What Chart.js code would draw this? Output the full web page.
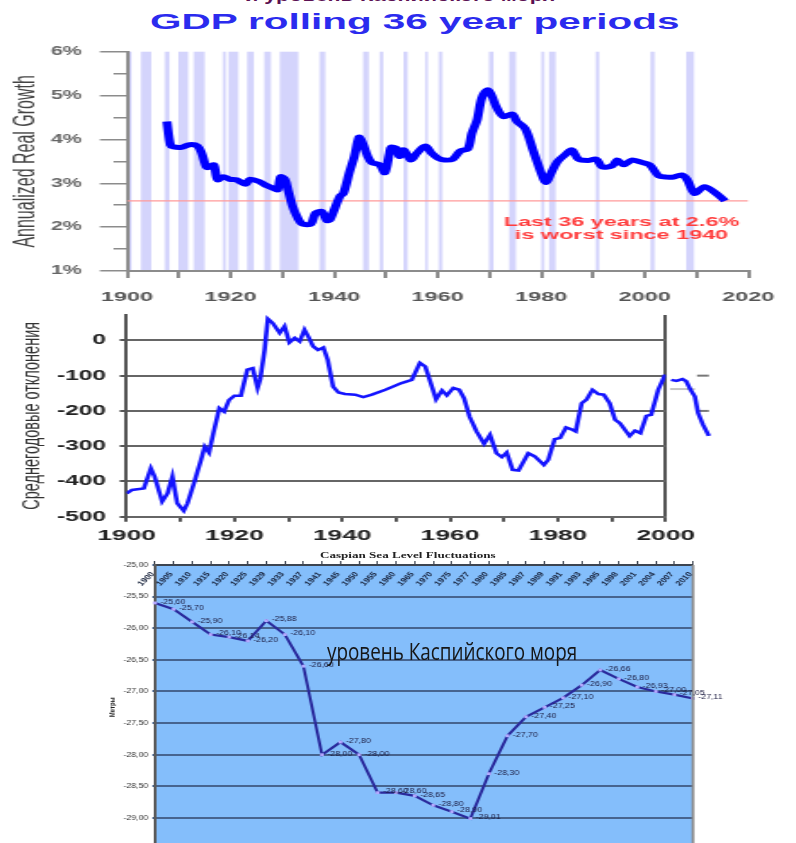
<!DOCTYPE html>
<html>
<head>
<meta charset="utf-8">
<script src="https://cdn.jsdelivr.net/npm/chart.js@4.4.1/dist/chart.umd.min.js"></script>
<style>
  html, body { margin: 0; padding: 0; background: #fff; }
  body { position: relative; width: 796px; height: 843px; overflow: hidden; font-family: "Liberation Sans", Arial, sans-serif; }
  .wrap { position: absolute; left: 0; transform-origin: 0 0; }
  .wrap canvas { display: block; }
  .txt { position: absolute; white-space: nowrap; line-height: 1.2; }
  .txt span { display: inline-block; transform-origin: 0 50%; }
</style>
</head>
<body>

<div class="txt" id="capTop" style="font-weight:bold;font-size:16px;color:#5b1052"><span>и уровень Каспийского моря</span></div>
<div class="txt" id="gdpTitle" style="font-weight:bold;font-size:22.5px;color:#2b2bee"><span>GDP rolling 36 year periods</span></div>

<div class="wrap" style="top:0;transform:scaleX(1.8009)"><canvas id="gdpChart" width="442" height="310"></canvas></div>
<div class="wrap" style="top:305px;transform:scaleX(1.7009)"><canvas id="devChart" width="468" height="245"></canvas></div>
<div class="wrap" style="top:548px;transform:scaleX(1.3492)"><canvas id="seaChart" width="590" height="310"></canvas></div>

<div class="txt" id="seaTitle" style="font-weight:bold;font-size:8px;color:#222;font-family:'Liberation Serif',serif"><span>Caspian Sea Level Fluctuations</span></div>
<div class="txt" id="seaNote" style="font-size:24px;color:#161616;font-family:'Open Sans',sans-serif"><span>уровень Каспийского моря</span></div>

<script>
// ---- GDP rolling 36 year growth (top chart)
const gdpYears = [1907.7, 1908.4, 1909, 1910.5, 1912.1, 1913.6, 1914.4, 1915.4, 1916.1, 1916.8, 1917.5, 1918.6, 1919.9, 1921.1, 1922.9, 1923.7, 1925.5, 1926.7, 1928.6, 1929.1, 1929.7, 1930.5, 1931.1, 1932, 1933, 1933.9, 1935.5, 1936.4, 1937.6, 1938.6, 1939.2, 1941.1, 1941.8, 1942.9, 1943.9, 1944.8, 1945.4, 1946.5, 1947.3, 1948.8, 1949.8, 1950.7, 1951, 1952, 1952.6, 1953.5, 1954.8, 1956, 1957.6, 1958.8, 1960.1, 1961.3, 1962.9, 1964.4, 1965.8, 1966.6, 1967.6, 1968.5, 1969.6, 1970.4, 1971.3, 1972.7, 1974.4, 1975.3, 1976.9, 1978.4, 1980, 1980.9, 1981.9, 1983.1, 1984.7, 1985.9, 1987.2, 1989, 1990.6, 1991.8, 1993.7, 1994.7, 1995.9, 1997.5, 1999, 2000.9, 2002.7, 2004.3, 2005.5, 2007.1, 2008.2, 2009.6, 2011.5, 2013.3, 2015.5];
const gdpGrowth = [4.41, 3.87, 3.83, 3.82, 3.88, 3.85, 3.69, 3.36, 3.38, 3.42, 3.08, 3.15, 3.09, 3.08, 2.98, 3.09, 3.04, 2.96, 2.87, 2.85, 3.15, 3.09, 2.85, 2.47, 2.2, 2.07, 2.07, 2.32, 2.36, 2.15, 2.17, 2.7, 2.77, 3.23, 3.61, 4.05, 3.95, 3.61, 3.47, 3.42, 3.24, 3.69, 3.82, 3.8, 3.61, 3.76, 3.53, 3.69, 3.85, 3.69, 3.57, 3.53, 3.55, 3.74, 3.78, 4.14, 4.44, 4.94, 5.13, 5.01, 4.75, 4.52, 4.58, 4.41, 4.25, 3.76, 3.23, 3.02, 3.23, 3.49, 3.66, 3.76, 3.55, 3.52, 3.55, 3.37, 3.4, 3.53, 3.42, 3.53, 3.49, 3.42, 3.17, 3.14, 3.14, 3.19, 3.08, 2.77, 2.92, 2.81, 2.6];
const recessionStart = [1900.3, 1902.7, 1907.3, 1909.9, 1912.9, 1918.5, 1919.6, 1923.2, 1926.5, 1929.5, 1937.2, 1945.6, 1948.8, 1953.4, 1957.6, 1960.2, 1969.9, 1973.8, 1980.0, 1981.5, 1990.5, 2001.1, 2008.0];
const recessionEnd   = [1900.9, 1904.7, 1908.2, 1911.8, 1915.0, 1919.1, 1921.5, 1924.5, 1927.8, 1933.1, 1938.3, 1946.7, 1949.5, 1954.2, 1958.1, 1960.9, 1970.8, 1975.1, 1980.6, 1982.8, 1991.2, 2001.9, 2009.5];
const worstSpan = [1900, 2020];
const worstRate = 2.6;
const noteLines = ['Last 36 years at 2.6%', 'is worst since 1940'];
const notePos = { x: 1995.5, y: [2.1, 1.81] };

// ---- Caspian mean annual deviation (middle chart)
const devYears = [1900, 1901, 1902, 1903.2, 1904.5, 1905.2, 1906.6, 1907.6, 1908.5, 1909.4, 1910.6, 1911.3, 1912.5, 1913.8, 1914.5, 1915.3, 1916.1, 1917.2, 1918.1, 1919, 1920, 1921.2, 1922.4, 1923.4, 1924.3, 1924.8, 1925.6, 1926.2, 1927.1, 1928.4, 1929.3, 1930.2, 1931.2, 1932.1, 1933, 1933.7, 1934.6, 1935.5, 1936.5, 1937.3, 1938.3, 1939.3, 1940.5, 1942.4, 1943.9, 1945.5, 1948, 1951, 1952.9, 1954.4, 1955.4, 1956.3, 1957.4, 1958.5, 1959.4, 1960.6, 1961.7, 1962.6, 1963.6, 1964.9, 1966.3, 1967.4, 1968.6, 1969.6, 1970.5, 1971.6, 1972.7, 1974.5, 1975.7, 1977.4, 1978.2, 1979.4, 1980.4, 1981.5, 1982.5, 1983.3, 1984.4, 1985.3, 1986.4, 1987.5, 1988.5, 1989.6, 1990.6, 1991.5, 1993.3, 1994.3, 1995.3, 1996.4, 1997.3, 1998.6, 1999.9];
const devValues = [-434, -424, -422, -420, -363, -386, -457, -434, -386, -462, -483, -462, -405, -339, -301, -318, -263, -192, -202, -169, -157, -157, -83, -79, -135, -110, -27, 61, 49, 21, 40, -6, 7, -3, 30, 11, -17, -27, -20, -55, -131, -148, -152, -154, -161, -154, -140, -121, -112, -64, -74, -116, -167, -142, -156, -135, -140, -164, -216, -258, -293, -268, -320, -331, -318, -367, -369, -320, -329, -353, -339, -280, -277, -247, -252, -258, -178, -168, -140, -152, -154, -178, -225, -235, -271, -256, -263, -214, -211, -140, -97];
// after 2000 (listed newest first)
const devYearsLate = [2008, 2006.9, 2006, 2005.4, 2004.6, 2003.8, 2003.1, 2002, 2001];
const devValuesLate = [-271, -239, -206, -159, -140, -116, -110, -115, -112];
const devTickValues = [-500, -450, -400, -350, -300, -250, -200, -150, -100, -50, 0, 50];
const markYears = [2008, 2005.8];
const markLevels = [-100, -200];
const faintMarkYears = [2005.4, 2000.8];
const faintMarkLevel = -138;

// ---- Caspian Sea level (bottom chart)
const caspianYears = ['1900', '1905', '1910', '1915', '1920', '1925', '1929', '1933', '1937', '1941', '1945', '1950', '1955', '1960', '1965', '1970', '1975', '1977', '1980', '1985', '1987', '1989', '1991', '1993', '1995', '1998', '2001', '2004', '2007', '2010'];
const caspianLevel = [-25.60, -25.70, -25.90, -26.10, -26.14, -26.20, -25.88, -26.10, -26.60, -28.00, -27.80, -28.00, -28.60, -28.60, -28.65, -28.80, -28.90, -29.01, -28.30, -27.70, -27.40, -27.25, -27.10, -26.90, -26.66, -26.80, -26.93, -27.00, -27.05, -27.11];

Chart.defaults.font.family = '"Liberation Sans", Arial, sans-serif';
Chart.defaults.animation = false;
Chart.defaults.plugins.legend.display = false;
Chart.defaults.plugins.tooltip.enabled = false;

function placeText(id, left, top, width) {
  const box = document.getElementById(id);
  const span = box.firstElementChild;
  box.style.left = left + 'px';
  box.style.top = top + 'px';
  span.style.transform = 'scaleX(' + (width / span.offsetWidth) + ')';
}
placeText('capTop', 245, -14, 311);
placeText('gdpTitle', 150, 8, 530);
placeText('seaTitle', 320, 551, 175);
placeText('seaNote', 327, 637, 250);

const comma = v => v.toFixed(2).replace('.', ',');

// ---------- top chart
const recessionBands = {
  id: 'recessionBands',
  beforeDraw(chart) {
    const { ctx, chartArea, scales: { x } } = chart;
    ctx.save();
    ctx.fillStyle = '#d4d4fc';
    recessionStart.forEach((start, i) => {
      const x1 = x.getPixelForValue(start);
      const x2 = x.getPixelForValue(recessionEnd[i]);
      ctx.fillRect(x1, chartArea.top, x2 - x1, chartArea.bottom - chartArea.top);
    });
    ctx.restore();
  },
  afterDatasetsDraw(chart) {
    const { ctx, scales: { x, y } } = chart;
    ctx.save();
    ctx.font = 'bold 13px "Liberation Sans"';
    ctx.fillStyle = '#ff3c3c';
    ctx.textAlign = 'center';
    ctx.textBaseline = 'middle';
    noteLines.forEach((line, i) => {
      ctx.fillText(line, x.getPixelForValue(notePos.x), y.getPixelForValue(notePos.y[i]));
    });
    ctx.restore();
  }
};

new Chart(document.getElementById('gdpChart'), {
  type: 'line',
  data: {
    datasets: [
      {
        data: gdpYears.map((x, i) => ({ x, y: gdpGrowth[i] })),
        borderColor: '#0000ff',
        borderWidth: 5,
        pointRadius: 0,
        tension: 0.3
      },
      {
        data: worstSpan.map(x => ({ x, y: worstRate })),
        borderColor: '#ff9a9a',
        borderWidth: 1.3,
        pointRadius: 0
      }
    ]
  },
  options: {
    responsive: false,
    layout: { padding: { left: 0, right: 15, top: 51.7, bottom: 0 } },
    scales: {
      x: {
        type: 'linear', min: 1900, max: 2020,
        afterFit: s => { s.height = 39; },
        border: { color: '#8c8c8c', width: 2 },
        grid: { drawOnChartArea: false, tickLength: 7, color: '#8c8c8c', lineWidth: 2 },
        ticks: {
          stepSize: 10, padding: 12, maxRotation: 0, autoSkip: false,
          color: '#555', font: { size: 13, weight: 'bold' },
          callback: v => (v % 20 === 0 ? v : '')
        }
      },
      y: {
        min: 1, max: 6,
        afterFit: s => { s.width = 70.5; },
        border: { color: '#8c8c8c', width: 2 },
        grid: {
          drawOnChartArea: false, tickLength: 15, color: '#8c8c8c', lineWidth: 1.5,
          tickBorderDash: ctx => (Number.isInteger(ctx.tick.value) ? [] : [0, 7.5, 7.5])
        },
        ticks: {
          stepSize: 0.5, padding: 10, color: '#666', font: { size: 12, weight: 'bold' },
          callback: v => (Number.isInteger(v) ? v + '%' : '')
        },
        title: { display: true, text: 'Annualized Real Growth', color: '#444', font: { size: 16 }, padding: { top: 5, bottom: 0 } }
      }
    }
  },
  plugins: [recessionBands]
});

// ---------- middle chart
new Chart(document.getElementById('devChart'), {
  type: 'line',
  data: {
    datasets: [
      {
        data: devYears.map((x, i) => ({ x, y: devValues[i] })),
        borderColor: '#1414ff', borderWidth: 2.6, pointRadius: 0
      },
      {
        data: devYearsLate.map((x, i) => ({ x, y: devValuesLate[i] })),
        borderColor: '#1414ff', borderWidth: 2.6, pointRadius: 0, clip: false
      },
      ...markLevels.map(level => ({
        data: markYears.map(x => ({ x, y: level })),
        borderColor: '#777', borderWidth: 2, pointRadius: 0, clip: false
      })),
      {
        data: faintMarkYears.map(x => ({ x, y: faintMarkLevel })),
        borderColor: '#c4c4c4', borderWidth: 2, pointRadius: 0, clip: false
      }
    ]
  },
  options: {
    responsive: false,
    layout: { autoPadding: false, padding: { left: 0, right: 76.6, top: 10, bottom: 0 } },
    scales: {
      x: {
        type: 'linear', min: 1900, max: 2000,
        afterFit: s => { s.height = 33.3; },
        border: { color: '#666', width: 2 },
        grid: {
          tickLength: 5, tickColor: '#555', lineWidth: 2,
          color: ctx => (ctx.tick && ctx.tick.value === 2000 ? '#555' : 'rgba(0,0,0,0)')
        },
        ticks: {
          stepSize: 10, padding: 5, maxRotation: 0, autoSkip: false,
          color: '#222', font: { size: 15.5, weight: 'bold' },
          callback: v => (v % 20 === 0 ? v : '')
        }
      },
      y: {
        min: -500, max: 72,
        afterFit: s => { s.width = 74.4; s.paddingTop = 0; },
        afterBuildTicks: s => { s.ticks = devTickValues.map(value => ({ value })); },
        border: { color: '#555', width: 2 },
        grid: {
          tickLength: 4, tickColor: '#555', lineWidth: 2,
          color: ctx => (ctx.tick && ctx.tick.value % 100 === 0 ? '#666' : 'rgba(0,0,0,0)')
        },
        ticks: {
          padding: 8, color: '#222', font: { size: 14.5, weight: 'bold' },
          callback: v => (v % 100 === 0 ? v : '')
        },
        title: { display: true, text: 'Среднегодовые отклонения', color: '#333', font: { size: 14.5 }, padding: { top: 10, bottom: 0 } }
      }
    }
  }
});

// ---------- bottom chart
const seaDecor = {
  id: 'seaDecor',
  beforeDraw(chart) {
    const { ctx, chartArea } = chart;
    ctx.save();
    ctx.fillStyle = '#84befb';
    ctx.fillRect(chartArea.left, chartArea.top, chartArea.right - chartArea.left, chartArea.bottom - chartArea.top);
    ctx.restore();
  },
  afterDatasetsDraw(chart) {
    const { ctx, chartArea, scales: { x } } = chart;
    ctx.save();
    ctx.strokeStyle = '#8a8a8a';
    ctx.lineWidth = 2;
    ctx.beginPath();
    ctx.moveTo(chartArea.right, chartArea.top);
    ctx.lineTo(chartArea.right, chartArea.bottom);
    ctx.stroke();

    // category labels, rotated, just under the top axis
    ctx.font = 'bold 7px "Liberation Sans"';
    ctx.fillStyle = '#18233c';
    ctx.textAlign = 'center';
    ctx.textBaseline = 'middle';
    caspianYears.forEach((label, i) => {
      ctx.save();
      ctx.translate(x.getPixelForTick(i) - 6.5, chartArea.top + 14);
      ctx.rotate(-0.9);
      ctx.fillText(label, 0, 0);
      ctx.restore();
    });

    // value labels next to the points
    ctx.font = '6.5px "Liberation Sans"';
    ctx.fillStyle = '#1b1b40';
    ctx.textAlign = 'left';
    const meta = chart.getDatasetMeta(0);
    meta.data.forEach((pt, i) => {
      ctx.fillText(comma(caspianLevel[i]), pt.x + 4, pt.y - 1);
    });
    ctx.restore();
  }
};

new Chart(document.getElementById('seaChart'), {
  type: 'line',
  data: {
    labels: caspianYears,
    datasets: [{
      data: caspianLevel,
      borderColor: '#2a2a9c',
      borderWidth: 2.2,
      pointStyle: 'rect',
      pointRadius: 2,
      pointBackgroundColor: '#b4a8ff',
      pointBorderWidth: 0,
      clip: false
    }]
  },
  options: {
    responsive: false,
    layout: { padding: { left: 0, right: 76.4, top: 12, bottom: 8.4 } },
    scales: {
      x: {
        type: 'category', position: 'top', offset: false,
        afterFit: s => { s.height = 5; },
        border: { color: '#3c4450', width: 2 },
        grid: { drawOnChartArea: false, tickLength: 4, color: '#3c4450' },
        ticks: { display: false }
      },
      y: {
        min: -29.5, max: -25,
        afterFit: s => { s.width = 114.9; },
        border: { color: '#5a5a5a', width: 2 },
        grid: { color: '#46648f', lineWidth: 2, tickLength: 2 },
        ticks: { stepSize: 0.5, padding: 3, color: '#333', font: { size: 6.5 }, callback: v => comma(v) },
        title: { display: true, text: 'Метры', color: '#222', font: { size: 6, weight: 'bold' }, padding: { top: 80, bottom: 0 } }
      }
    }
  },
  plugins: [seaDecor]
});
</script>
</body>
</html>
